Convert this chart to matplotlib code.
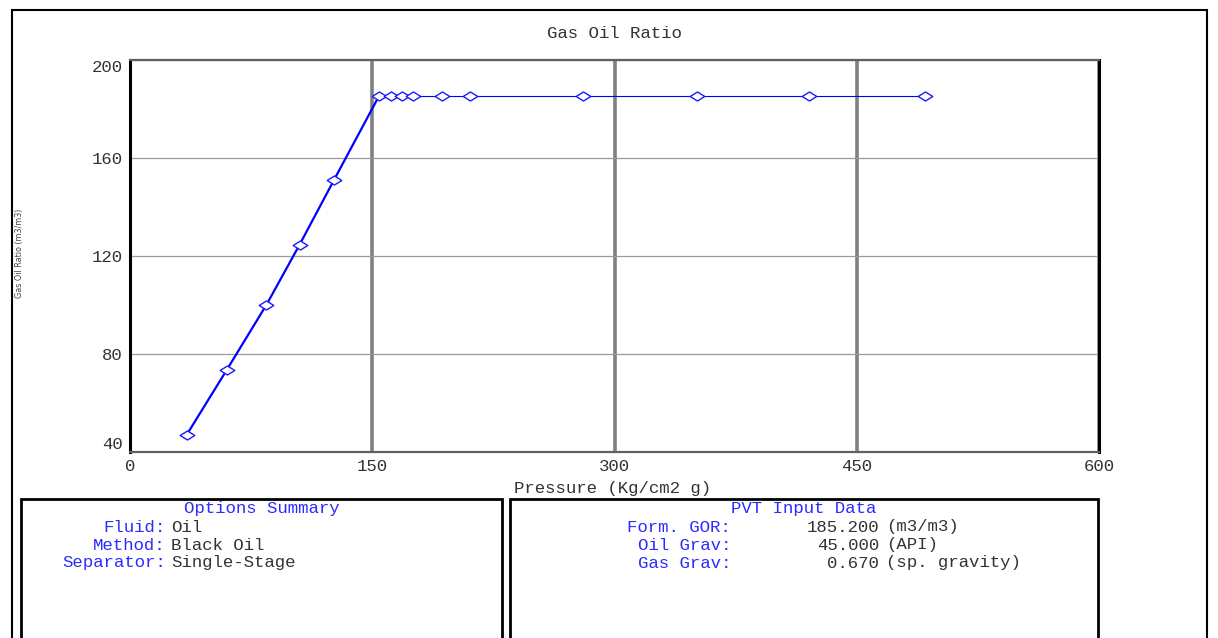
import matplotlib
matplotlib.use("Agg")
import matplotlib.pyplot as plt
from matplotlib.path import Path
from matplotlib.patches import Rectangle

# GOR vs pressure (flash liberation, black oil)
pressure = [35.0, 60.0, 84.5, 105.0, 126.3, 154.1, 161.4, 168.5, 175.5,
            193.3, 210.8, 280.8, 350.9, 420.6, 492.0]
gor = [46.9, 73.6, 100.1, 124.6, 151.0, 185.2, 185.2, 185.2, 185.2,
       185.2, 185.2, 185.2, 185.2, 185.2, 185.2]
bubble_idx = 5

x_ticks = [0, 150, 300, 450, 600]
y_ticks = [40, 80, 120, 160, 200]

options_labels = ["Fluid:", "Method:", "Separator:"]
options_values = ["Oil", "Black Oil", "Single-Stage"]
pvt_labels = ["Form. GOR:", "Oil Grav:", "Gas Grav:"]
pvt_values = ["185.200", "45.000", "0.670"]
pvt_units = ["(m3/m3)", "(API)", "(sp. gravity)"]

W, H = 1218, 638
MONO = "Liberation Mono"
BLUE_TXT = "#2b2bff"
DARK = "#333333"
FS = 12.5


def fx(px):
    return px / W


def fy(py):
    return 1 - py / H


fig = plt.figure(figsize=(W / 100, H / 100), dpi=100)

# outer frame
fig.patches.append(Rectangle((fx(12), fy(700)), fx(1207) - fx(12), fy(10) - fy(700),
                             transform=fig.transFigure, fill=False, ec="black", lw=1.5))

ax = fig.add_axes([fx(130), fy(452), fx(1099) - fx(130), fy(60) - fy(452)])
ax.set_xlim(0, 600)
ax.set_ylim(40, 200)
ax.set_xticks(x_ticks)
ax.set_yticks(y_ticks)
ax.tick_params(length=0, labelsize=FS, labelcolor=DARK, pad=5)
for lab in ax.get_xticklabels() + ax.get_yticklabels():
    lab.set_family(MONO)
ax.yaxis.get_major_ticks()[0].label1.set_va("bottom")
ax.yaxis.get_major_ticks()[-1].label1.set_va("top")

ax.xaxis.grid(True, color="#808080", lw=2.6)
ax.yaxis.grid(True, color="#999999", lw=0.9)
ax.set_axisbelow(True)
for side in ("left", "right"):
    ax.spines[side].set_color("black")
    ax.spines[side].set_linewidth(2.2)
for side in ("top", "bottom"):
    ax.spines[side].set_color("#606060")
    ax.spines[side].set_linewidth(1.6)

diamond = Path([(-1, 0), (0, 0.62), (1, 0), (0, -0.62), (-1, 0)],
               [Path.MOVETO, Path.LINETO, Path.LINETO, Path.LINETO, Path.CLOSEPOLY])
ax.plot(pressure[:bubble_idx + 1], gor[:bubble_idx + 1], color="#0000ff", lw=1.6)
ax.plot(pressure[bubble_idx:], gor[bubble_idx:], color="#0000ff", lw=0.8)
ax.plot(pressure, gor, ls="none", marker=diamond, ms=10.5, mfc="white",
        mec="#1a1aff", mew=1.0)

fig.text(fx(614), fy(34), "Gas Oil Ratio", family=MONO, fontsize=FS, color=DARK,
         ha="center", va="center")
fig.text(fx(613), fy(488), "Pressure (Kg/cm2 g)", family=MONO, fontsize=FS, color=DARK,
         ha="center", va="center")
fig.text(fx(20), fy(253), "Gas Oil Ratio (m3/m3)", fontsize=5.8, color="#444444",
         rotation=90, ha="center", va="center")

# summary panels under the chart
for x0, x1 in ((21, 502), (510, 1098)):
    fig.patches.append(Rectangle((fx(x0), fy(700)), fx(x1) - fx(x0), fy(499) - fy(700),
                                 transform=fig.transFigure, fill=False, ec="black", lw=2))

fig.text(fx(262), fy(509), "Options Summary", family=MONO, fontsize=FS, color=BLUE_TXT,
         ha="center", va="center")
for i, (lab, val) in enumerate(zip(options_labels, options_values)):
    y = fy(527 + 18 * i)
    fig.text(fx(166), y, lab, family=MONO, fontsize=FS, color=BLUE_TXT, ha="right", va="center")
    fig.text(fx(171), y, val, family=MONO, fontsize=FS, color=DARK, ha="left", va="center")

fig.text(fx(804), fy(509), "PVT Input Data", family=MONO, fontsize=FS, color=BLUE_TXT,
         ha="center", va="center")
for i, (lab, val, unit) in enumerate(zip(pvt_labels, pvt_values, pvt_units)):
    y = fy(527 + 18 * i)
    fig.text(fx(731), y, lab, family=MONO, fontsize=FS, color=BLUE_TXT, ha="right", va="center")
    fig.text(fx(879), y, val, family=MONO, fontsize=FS, color=DARK, ha="right", va="center")
    fig.text(fx(886), y, unit, family=MONO, fontsize=FS, color=DARK, ha="left", va="center")

fig.savefig("out.png", dpi=100)
